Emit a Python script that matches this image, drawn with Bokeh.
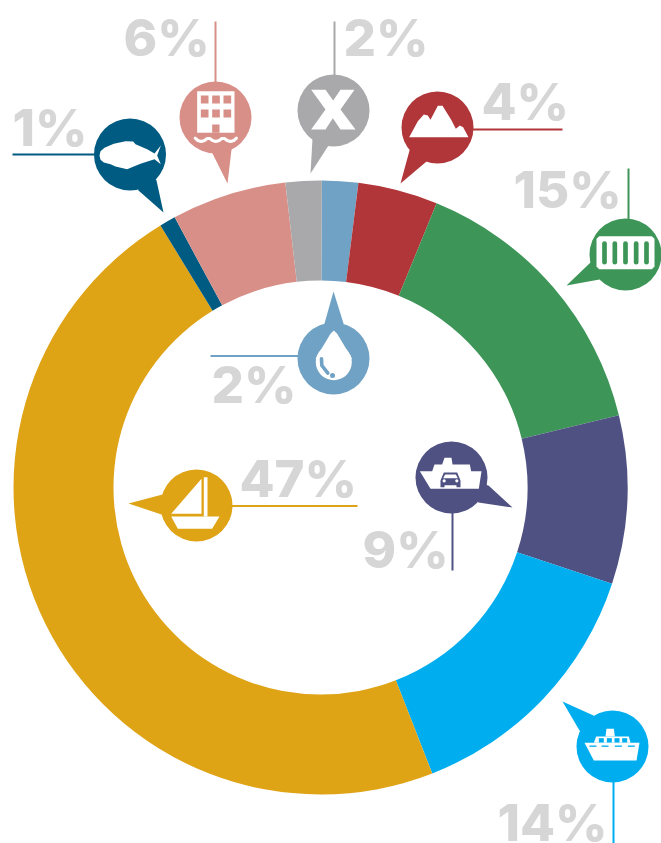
import math
from bokeh.plotting import figure
from bokeh.models import Range1d
from bokeh.embed import file_html
from bokeh.resources import INLINE
from bokeh.core.properties import value

# ---- data, clockwise from 12 o'clock
NAMES = ["water", "mountain", "container", "ferry", "ship", "sailboat", "fish", "hotel", "other"]
VALUES = [1.9, 4.2, 15.05, 8.85, 14.0, 47.2, 0.85, 6.05, 1.9]
LABELS = ["2%", "4%", "15%", "9%", "14%", "47%", "1%", "6%", "2%"]
COLORS = ["#6fa2c4", "#b13639", "#3e9558", "#4f5183", "#00aeef", "#dfa316", "#005b82", "#d88f88", "#a9a9ab"]

# ---- layout (page pixels)
W, H = 661, 843
CX, CY, R_OUT, R_IN = 320, 487, 307, 207
R_BUB = 36
TEXT_SHIFT = 20
LABEL_POS = [(211, 404), (481, 121), (513, 209), (362, 569), (497, 842), (239, 498), (12, 147), (123, 57), (343, 57)]
BUBBLE = [(333, 358), (437, 127), (625, 254), (451, 477), (612, 746), (196, 505), (129.5, 154), (215, 117), (333, 110)]
TAILS = [
    [(333, 291), (324, 323), (343, 323)],
    [(400, 183), (409, 150), (426, 161)],
    [(566, 285), (590, 262), (599, 279)],
    [(512, 507), (488, 485), (478, 502)],
    [(562, 701), (593, 715), (579, 730)],
    [(128, 503), (162, 494), (161, 514)],
    [(163, 212), (156, 180), (138, 190)],
    [(227, 183), (231, 149), (212, 153)],
    [(310, 173), (312, 138), (328, 145)],
]
LEADERS = [
    [(210, 355.5), (300, 355.5)], [(470, 129), (562, 129)], [(628, 168), (628, 220)],
    [(452, 510), (452, 570)], [(613, 780), (613, 843)], [(229, 505.5), (357, 505.5)],
    [(12, 154), (96, 154)], [(215, 21), (215, 83)], [(334, 21), (334, 76)],
]

p = figure(width=W, height=H, output_backend="svg", toolbar_location=None,
           x_range=Range1d(0, W), y_range=Range1d(0, H), min_border=0)
p.axis.visible = False
p.grid.visible = False
p.outline_line_color = None
p.background_fill_color = "white"


def Y(y):
    return H - y


def Z(pts, ox, oy):
    return [(ox + a / 3, oy + b / 3) for a, b in pts]


def poly(pts, color):
    p.patch([a for a, _ in pts], [Y(b) for _, b in pts], fill_color=color, line_color=None)


def stroke(pts, color, width, cap="butt"):
    p.line([a for a, _ in pts], [Y(b) for _, b in pts], line_color=color, line_width=width,
           line_cap=cap, line_join="round")


def disc(x, y, r, color):
    p.circle([x], [Y(y)], radius=r, fill_color=color, line_color=None)


# ---- donut
total = sum(VALUES)
a = math.pi / 2 - 0.0045
for v, c in zip(VALUES, COLORS):
    b = a - 2 * math.pi * v / total
    p.annular_wedge([CX], [Y(CY)], inner_radius=R_IN, outer_radius=R_OUT, start_angle=b, end_angle=a,
                    fill_color=c, line_color=None)
    a = b

# ---- leaders, bubbles
for pts, c in zip(LEADERS, COLORS):
    stroke(pts, c, 2)
for (x, y), tail, c in zip(BUBBLE, TAILS, COLORS):
    poly([tail[0], tail[1], (x, y), tail[2]], c)
    disc(x, y, R_BUB, c)

# ---- labels
for (x, y), t in zip(LABEL_POS, LABELS):
    p.text([x], [Y(y - TEXT_SHIFT)], text=[t], text_font=value("Inter ExtraBold"), text_font_style="bold",
           text_font_size="51px", text_color="#d6d6d6", text_align="left", text_baseline="alphabetic")

WHITE = "white"
# ---- fish
c = COLORS[6]
poly(Z([(297, 465), (300, 452), (312, 442), (340, 430), (375, 422), (398, 423), (405, 431), (440, 446), (462, 459), (481, 435),
        (470, 465), (481, 491), (462, 476), (420, 490), (398, 499), (380, 506), (345, 498), (330, 491), (310, 486), (300, 478)], 0, 0), WHITE)
# ---- hotel
c = COLORS[7]
poly(Z([(590, 272), (702, 272), (702, 397), (590, 397)], 0, 0), WHITE)
for wx in (601, 635, 669):
    for wy in (285, 327):
        poly(Z([(wx, wy), (wx + 23, wy), (wx + 23, wy + 24), (wx, wy + 24)], 0, 0), c)
poly(Z([(635, 372), (657, 372), (657, 397), (635, 397)], 0, 0), c)
stroke(Z([(584, 413), (592, 420), (602, 423), (612, 420), (620, 414), (628, 414), (636, 420), (646, 423), (656, 420), (664, 414),
          (672, 414), (680, 420), (690, 423), (700, 420), (708, 413)], 0, 0), WHITE, 3, "round")
# ---- X
poly(Z([(62, 73), (105, 73), (128, 105), (150, 73), (192, 73), (150, 132), (195, 192), (150, 192), (127, 158), (105, 192),
        (62, 192), (105, 132)], 290, 65), WHITE)
# ---- mountain
poly(Z([(236, 410), (262, 362), (280, 342), (292, 345), (300, 358), (322, 316), (336, 316), (362, 358), (376, 385), (388, 375),
        (398, 380), (414, 410)], 330, 0), WHITE)
# ---- container
c = COLORS[2]
poly(Z([(806, 707), (964, 707), (972, 715), (972, 798), (964, 806), (806, 806), (798, 798), (798, 715)], 330, 0), WHITE)
for bx in (822, 853, 885, 917, 948):
    stroke(Z([(bx, 729), (bx, 785)], 330, 0), c, 4.7, "round")
# ---- water drop
c = COLORS[0]
disc(333.3, 361.7, 18, WHITE)
poly(Z([(640, 150), (650, 160), (695, 235), (585, 235), (630, 160)], 120, 280), WHITE)
stroke(Z([(603, 235), (604, 255), (622, 278)], 120, 280), c, 3.6, "round")
disc(120 + 636 / 3, 280 + 285 / 3, 2.5, c)
# ---- sail boat
poly(Z([(243, 595), (243, 700), (152, 700)], 120, 280), WHITE)
poly(Z([(250, 590), (261, 590), (261, 708), (250, 708)], 120, 280), WHITE)
poly(Z([(152, 708), (297, 708), (275, 745), (172, 745)], 120, 280), WHITE)
# ---- ferry
c = COLORS[3]
poly(Z([(208, 122), (245, 122), (252, 102), (275, 102), (282, 82), (303, 82), (306, 102), (358, 102), (362, 122), (393, 122),
        (385, 175), (240, 175)], 350, 430), WHITE)
poly(Z([(270, 150), (280, 126), (320, 126), (330, 150), (330, 170), (318, 170), (318, 164), (282, 164), (282, 170), (270, 170)], 350, 430), c)
poly(Z([(284, 132), (316, 132), (322, 143), (278, 143)], 350, 430), WHITE)
disc(350 + 281 / 3, 430 + 151 / 3, 1.6, WHITE)
disc(350 + 319 / 3, 430 + 151 / 3, 1.6, WHITE)
# ---- ship
c = COLORS[4]
poly(Z([(27, 97), (192, 97), (183, 150), (55, 150)], 575, 710), WHITE)
poly(Z([(62, 78), (160, 78), (165, 97), (55, 97)], 575, 710), WHITE)
poly(Z([(93, 55), (115, 55), (118, 78), (90, 78)], 575, 710), WHITE)
for wx in (70, 94, 117, 140):
    poly(Z([(wx, 83), (wx + 15, 83), (wx + 15, 96), (wx, 96)], 575, 710), c)
for wx in (42, 78, 118, 157):
    poly(Z([(wx, 105), (wx + 21, 105), (wx + 21, 109), (wx, 109)], 575, 710), c)

open("out.html", "w").write(file_html(p, INLINE))
